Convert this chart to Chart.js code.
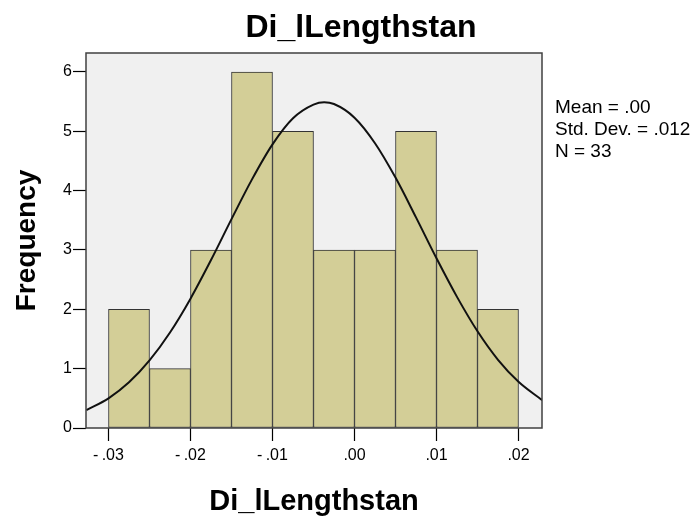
<!DOCTYPE html>
<html><head><meta charset="utf-8">
<script src="https://cdn.jsdelivr.net/npm/chart.js@4/dist/chart.umd.min.js"></script>
<style>html,body{margin:0;padding:0;background:#fff}#wrap{width:699px;height:517px}</style>
</head><body><div id="wrap"><canvas id="c" width="699" height="517"></canvas></div>
<script>
// ---- data ----
const chartTitle = 'Di_lLengthstan';
const xAxisTitle = 'Di_lLengthstan';
const yAxisTitle = 'Frequency';
const binCenters = [-0.0275, -0.0225, -0.0175, -0.0125, -0.0075, -0.0025, 0.0025, 0.0075, 0.0125, 0.0175];
const frequencies = [2, 1, 3, 6, 5, 3, 3, 5, 3, 2];
// normal curve
const curveX = [-0.0327, -0.03, -0.0275, -0.025, -0.0225, -0.02, -0.0175, -0.015, -0.0125, -0.01, -0.0075, -0.005, -0.0037, -0.0025, 0, 0.0025, 0.005, 0.0075, 0.01, 0.0125, 0.015, 0.0175, 0.02, 0.0225, 0.0229];
const curveY = [0.30, 0.50, 0.77, 1.14, 1.61, 2.18, 2.83, 3.52, 4.19, 4.78, 5.22, 5.45, 5.49, 5.46, 5.23, 4.80, 4.22, 3.55, 2.86, 2.21, 1.63, 1.15, 0.78, 0.51, 0.47];
const xTickValues = [-0.03, -0.02, -0.01, 0, 0.01, 0.02];
const xTickLabels = ['-\u2009.03', '-\u2009.02', '-\u2009.01', '.00', '.01', '.02'];
const yTickValues = [0, 1, 2, 3, 4, 5, 6];
const statsLines = ['Mean = .00', 'Std. Dev. = .012', 'N = 33'];

const FONT = "'Liberation Sans', Arial, sans-serif";
Chart.defaults.font.family = FONT;
Chart.defaults.color = '#000';

const deco = {
  id: 'deco',
  beforeDraw(chart) {
    const {ctx, chartArea: a} = chart;
    ctx.save();
    ctx.fillStyle = '#f0f0f0';
    ctx.fillRect(a.left, a.top, a.right - a.left, a.bottom - a.top);
    ctx.restore();
  },
  afterDraw(chart) {
    const {ctx, chartArea: a} = chart;
    ctx.save();
    ctx.strokeStyle = '#404040';
    ctx.lineWidth = 1.5;
    ctx.strokeRect(a.left, a.top, a.right - a.left, a.bottom - a.top);
    ctx.fillStyle = '#000';
    ctx.textAlign = 'center';
    ctx.textBaseline = 'alphabetic';
    ctx.font = 'bold 32px ' + FONT;
    ctx.fillText(chartTitle, 361, 37);
    ctx.textAlign = 'left';
    ctx.font = '19px ' + FONT;
    statsLines.forEach((t, i) => ctx.fillText(t, a.right + 13, 113 + i * 22));
    ctx.restore();
  }
};

new Chart(document.getElementById('c'), {
  type: 'bar',
  data: {
    datasets: [
      {
        type: 'line',
        data: curveX.map((x, i) => ({x: x, y: curveY[i]})),
        borderColor: '#111',
        borderWidth: 2,
        pointRadius: 0,
        cubicInterpolationMode: 'monotone',
        fill: false,
        order: 1
      },
      {
        type: 'bar',
        data: binCenters.map((x, i) => ({x: x, y: frequencies[i]})),
        backgroundColor: '#d3ce97',
        borderColor: '#333',
        borderWidth: 1,
        borderSkipped: false,
        barPercentage: 1,
        categoryPercentage: 1,
        order: 2
      }
    ]
  },
  options: {
    responsive: false,
    animation: false,
    layout: {padding: {top: 53, right: 157, left: 0, bottom: 0}},
    plugins: {legend: {display: false}, tooltip: {enabled: false}, title: {display: false}},
    scales: {
      x: {
        type: 'linear',
        offset: false,
        min: -0.032744,
        max: 0.022866,
        afterBuildTicks: s => { s.ticks = xTickValues.map(v => ({value: v})); },
        afterFit: s => { s.height = 89; },
        ticks: {
          font: {size: 16},
          padding: 5,
          maxRotation: 0,
          autoSkip: false,
          callback: (v, i) => xTickLabels[i]
        },
        grid: {display: true, drawOnChartArea: false, drawTicks: true, tickLength: 13, tickColor: '#000', tickWidth: 1.2, offset: false},
        border: {display: false},
        title: {display: true, text: xAxisTitle, font: {size: 29, weight: 'bold', lineHeight: 1}, padding: {top: 0, bottom: 0.5}}
      },
      y: {
        min: 0,
        max: 6.32,
        afterBuildTicks: s => { s.ticks = yTickValues.map(v => ({value: v})); },
        afterFit: s => { s.width = 86; },
        ticks: {font: {size: 16}, padding: 1, callback: v => String(v)},
        grid: {display: true, drawOnChartArea: false, drawTicks: true, tickLength: 13, tickColor: '#000', tickWidth: 1.2},
        border: {display: false},
        title: {display: true, text: yAxisTitle, font: {size: 28, weight: 'bold', lineHeight: 1}, padding: {top: 13, bottom: 0}}
      }
    }
  },
  plugins: [deco]
});
</script>
</body></html>
